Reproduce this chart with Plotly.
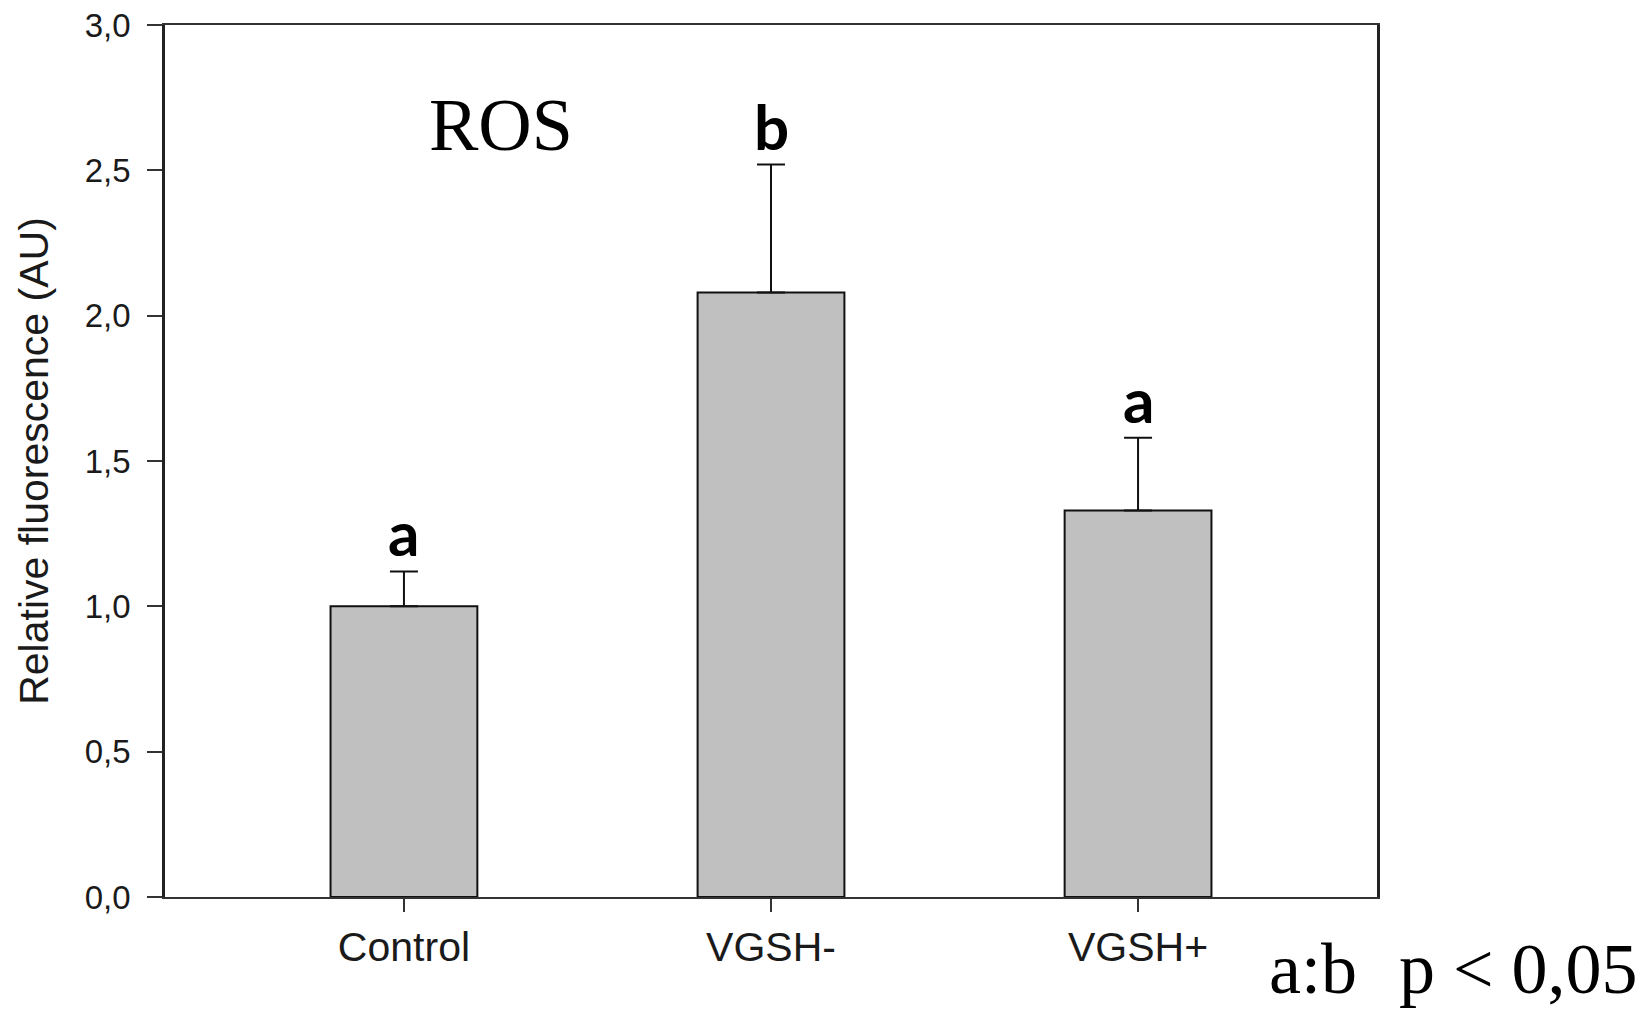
import plotly.graph_objects as go

categories = ["Control", "VGSH-", "VGSH+"]
means = [1.00, 2.08, 1.33]
errors = [0.12, 0.44, 0.25]
letters = ["a", "b", "a"]
y_ticks = [0.0, 0.5, 1.0, 1.5, 2.0, 2.5, 3.0]

# plot area in page pixels (page has 8px body margin)
PL, PR, PT, PB = 165, 1377, 24.7, 897.3
PW, PH = PR - PL, PB - PT

def px(xp):
    return (xp - PL) / PW

def py(yp):
    return (PB - yp) / PH

fig = go.Figure()
fig.add_trace(go.Bar(
    x=categories, y=means, width=0.4,
    marker=dict(color="#c0c0c0", line=dict(color="#111111", width=2)),
    error_y=dict(type="data", array=errors, arrayminus=[0]*len(errors), symmetric=False,
                 color="#111111", thickness=2, width=14),
    showlegend=False,
))

for c, m, e, l in zip(categories, means, errors, letters):
    fig.add_annotation(x=c, y=m + e, text=l, showarrow=False, yanchor="bottom",
                       yshift=0, font=dict(family="Lato", size=62, color="#000000", weight="bold"))

fig.add_annotation(xref="paper", yref="paper", x=px(501), y=py(125),
                   xanchor="center", yanchor="middle", text="ROS", showarrow=False,
                   font=dict(family="Liberation Serif", size=74, color="#000000"))

fig.add_annotation(xref="paper", yref="paper", x=px(1640), y=py(969),
                   xanchor="right", yanchor="middle",
                   text="a:b&nbsp;&nbsp;&#8202;p &lt; 0,05", showarrow=False,
                   font=dict(family="Liberation Serif", size=72, color="#000000"))

fig.update_layout(
    width=1637, height=1002,
    margin=dict(l=PL - 8, r=8 + 1637 - PR, t=PT - 8, b=8 + 1002 - PB, pad=0, autoexpand=False),
    paper_bgcolor="white", plot_bgcolor="white",
    separators=",.",
)
fig.update_xaxes(
    type="category", range=[-0.651, 2.651], automargin=False,
    showline=True, linecolor="#333333", linewidth=2, mirror=True,
    ticks="outside", ticklen=13, tickwidth=2, tickcolor="#333333",
    tickfont=dict(family="Liberation Sans", size=41, color="#1a1a1a"),
    showgrid=False, zeroline=False,
)
fig.update_yaxes(
    range=[0, 3], tickvals=y_ticks, tickformat=".1f", automargin=False,
    showline=True, linecolor="#222222", linewidth=2.5, mirror=True,
    ticks="outside", ticklen=15, tickwidth=2, tickcolor="#333333",
    ticklabelstandoff=10, ticklabeloverflow="allow",
    tickfont=dict(family="Liberation Sans", size=33, color="#1a1a1a"),
    title=dict(text="Relative fluorescence (AU)", standoff=24,
               font=dict(family="Liberation Sans", size=41, color="#1a1a1a")),
    showgrid=False, zeroline=False,
)

fig.write_html("out.html")
